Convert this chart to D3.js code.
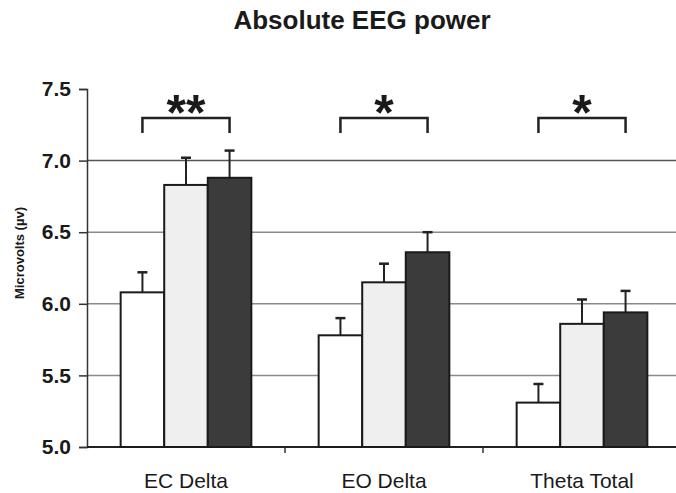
<!DOCTYPE html>
<html>
<head>
<meta charset="utf-8">
<script src="https://cdn.jsdelivr.net/npm/d3@7"></script>
<style>
  body { margin: 0; background: #fff; }
  text { font-family: "Liberation Sans", Arial, sans-serif; fill: #1a1a1a; }
</style>
</head>
<body>
<svg id="chart" width="676" height="493"></svg>
<script>
var svg = d3.select("#chart");

// data
var groups = ["EC Delta", "EO Delta", "Theta Total"];
var seriesNames = ["white", "light", "dark"];
var whiteVals = [6.08, 5.78, 5.31];
var lightVals = [6.83, 6.15, 5.86];
var darkVals  = [6.88, 6.36, 5.94];
var whiteErr = [0.14, 0.12, 0.13];
var lightErr = [0.19, 0.13, 0.17];
var darkErr  = [0.19, 0.14, 0.15];
var stars = ["**", "*", "*"];
var yTicks = [5.0, 5.5, 6.0, 6.5, 7.0, 7.5];
var gridTicks = [5.5, 6.0, 6.5, 7.0];

var fills = {white: "#ffffff", light: "#efefef", dark: "#3b3b3b"};

var rows = groups.map(function(g, i) {
  return {
    group: g,
    star: stars[i],
    bars: [
      {key: "white", v: whiteVals[i], e: whiteErr[i]},
      {key: "light", v: lightVals[i], e: lightErr[i]},
      {key: "dark",  v: darkVals[i],  e: darkErr[i]}
    ]
  };
});

var plotLeft = 87, plotRight = 681, plotTop = 89, plotBottom = 447;

var y = d3.scaleLinear().domain([5, 7.5]).range([plotBottom, plotTop]);
var x0 = d3.scaleBand().domain(groups).range([plotLeft, plotRight])
  .paddingInner(0.34).paddingOuter(0.17);
var x1 = d3.scaleBand().domain(seriesNames).range([0, x0.bandwidth()]);

// title
svg.append("text")
  .attr("x", 362).attr("y", 29)
  .attr("text-anchor", "middle")
  .style("font-size", "26px").style("font-weight", "bold")
  .attr("fill", "#222")
  .text("Absolute EEG power");

// grid
svg.append("g").selectAll("line")
  .data(gridTicks).enter().append("line")
    .attr("x1", plotLeft).attr("x2", 676)
    .attr("y1", d => y(d)).attr("y2", d => y(d))
    .attr("stroke", d => d === 7.0 ? "#555" : "#8a8a8a")
    .attr("stroke-width", 1.5);

// y axis
var yAxis = svg.append("g")
  .attr("transform", "translate(" + plotLeft + ",0)")
  .call(d3.axisLeft(y).tickValues(yTicks).tickFormat(d3.format(".1f")).tickSize(8).tickPadding(8));
yAxis.select(".domain").attr("stroke", "#333").attr("stroke-width", 1.5);
yAxis.selectAll(".tick line").attr("stroke", "#333").attr("stroke-width", 1.5);
yAxis.selectAll(".tick text")
  .style("font-size", "21px").style("font-weight", "bold")
  .style("font-family", "Liberation Sans, Arial, sans-serif")
  .attr("fill", "#222");

svg.append("text")
  .attr("transform", "translate(24,253) rotate(-90)")
  .attr("text-anchor", "middle")
  .style("font-size", "13px").style("font-weight", "bold")
  .text("Microvolts (\u00b5v)");

// x axis line and ticks between groups
svg.append("line")
  .attr("x1", plotLeft).attr("x2", 676)
  .attr("y1", plotBottom).attr("y2", plotBottom)
  .attr("stroke", "#222").attr("stroke-width", 2);

svg.append("g").selectAll("line")
  .data(groups.slice(1)).enter().append("line")
    .attr("x1", d => x0(d) - x0.step() * x0.paddingInner() / 2)
    .attr("x2", d => x0(d) - x0.step() * x0.paddingInner() / 2)
    .attr("y1", plotBottom).attr("y2", plotBottom + 6)
    .attr("stroke", "#333").attr("stroke-width", 1.5);

svg.append("g").selectAll("text")
  .data(groups).enter().append("text")
    .attr("x", d => x0(d) + x0.bandwidth() / 2)
    .attr("y", 488)
    .attr("text-anchor", "middle")
    .style("font-size", "21px")
    .attr("fill", "#222")
    .text(d => d);

// bars
var grp = svg.append("g").selectAll("g")
  .data(rows).enter().append("g")
    .attr("transform", d => "translate(" + x0(d.group) + ",0)");

// error bars (upper only)
grp.selectAll("line.err")
  .data(d => d.bars).enter().append("line")
    .attr("class", "err")
    .attr("x1", d => x1(d.key) + x1.bandwidth() / 2)
    .attr("x2", d => x1(d.key) + x1.bandwidth() / 2)
    .attr("y1", d => y(d.v)).attr("y2", d => y(d.v + d.e))
    .attr("stroke", "#222").attr("stroke-width", 2);

grp.selectAll("line.cap")
  .data(d => d.bars).enter().append("line")
    .attr("class", "cap")
    .attr("x1", d => x1(d.key) + x1.bandwidth() / 2 - 5)
    .attr("x2", d => x1(d.key) + x1.bandwidth() / 2 + 5)
    .attr("y1", d => y(d.v + d.e)).attr("y2", d => y(d.v + d.e))
    .attr("stroke", "#222").attr("stroke-width", 2.5);

grp.selectAll("rect")
  .data(d => d.bars).enter().append("rect")
    .attr("x", d => x1(d.key))
    .attr("width", x1.bandwidth())
    .attr("y", d => y(d.v))
    .attr("height", d => plotBottom - y(d.v))
    .attr("fill", d => fills[d.key])
    .attr("stroke", "#1a1a1a")
    .attr("stroke-width", 2);

// significance brackets
grp.append("path")
  .attr("d", function() {
    var a = x1("white") + x1.bandwidth() / 2, b = x1("dark") + x1.bandwidth() / 2;
    return "M" + a + ",133V118H" + b + "V133";
  })
  .attr("fill", "none").attr("stroke", "#222").attr("stroke-width", 2.5);

grp.append("text")
  .attr("x", x0.bandwidth() / 2)
  .attr("y", 130)
  .attr("text-anchor", "middle")
  .style("font-size", "50px").style("font-weight", "bold")
  .attr("fill", "#222")
  .text(d => d.star);
</script>
</body>
</html>
